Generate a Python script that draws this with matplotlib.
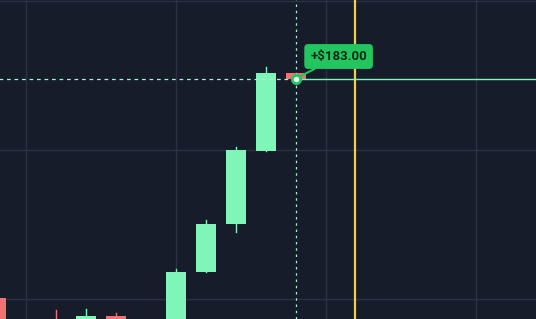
import matplotlib.pyplot as plt
from matplotlib.patches import Rectangle

# candle data (index, open, high, low, close)
idx = [0, 1, 2, 3, 4, 5, 6, 7, 8, 9, 10]
opens = [221, 170, 199, 197, 203, 190, 185, 247, 295, 368, 446]
highs = [221, 178, 209, 210, 206, 198, 250, 299, 372, 452, 446]
lows = [180, 165, 185, 195, 193, 186, 183, 247, 287, 368, 440]
closes = [185, 175, 190, 203, 196, 195, 247, 295, 369, 446, 440]

price_line = 440.5
cursor_idx = 10
marker_line_idx = 11.97
label_text = '+$183.00'

bg = '#171c2b'
up_col = '#7ff5b8'
down_col = '#f07272'

fig = plt.figure(figsize=(5.36, 3.19), dpi=100)
fig.patch.set_facecolor(bg)
ax = fig.add_axes([0, 0, 1, 1])
ax.set_facecolor(bg)
ax.set_xlim(4 / 30, 540 / 30)
ax.set_ylim(200, 519)
for s in ax.spines.values():
    s.set_visible(False)
ax.set_xticks([])
ax.set_yticks([])

# grid
for gx in [1, 6, 11, 16]:
    ax.axvline(gx, color='#2b3142', lw=1, zorder=0)
for gy in [220, 369, 518]:
    ax.axhline(gy, color='#2b3142', lw=1, zorder=0)

w = 20 / 30
for i, o, h, l, c in zip(idx, opens, highs, lows, closes):
    col = up_col if c >= o else down_col
    ax.plot([i, i], [l, h], color=col, lw=1, zorder=2)
    ax.add_patch(Rectangle((i - w / 2, min(o, c)), w, max(abs(c - o), 1),
                           facecolor=col, edgecolor='none', zorder=3))

# yellow marker line
ax.axvline(marker_line_idx, color='#f2cf4a', lw=1.6, zorder=4)

# crosshair
ax.plot([0, cursor_idx], [price_line, price_line], color='#a8f0d4', lw=0.9,
        ls=(0, (3, 3)), zorder=4)
ax.axvline(cursor_idx, color='#a8f0d4', lw=0.9, ls=(0, (2, 3)), zorder=4)
ax.plot([cursor_idx, 18], [price_line, price_line], color=up_col, lw=1, zorder=4)

# annotation
ax.annotate(label_text, xy=(cursor_idx, price_line), xytext=(11.42, 462.5),
            ha='center', va='center', fontsize=9.5, fontweight='bold', color='#0d2a18',
            family=['Roboto', 'DejaVu Sans'],
            bbox=dict(boxstyle='round,pad=0.45,rounding_size=0.3', fc='#22c55e', ec='none'),
            arrowprops=dict(arrowstyle='-', color='#22c55e', lw=1.5, shrinkA=0, shrinkB=0),
            zorder=6)
ax.plot([cursor_idx], [price_line], 'o', ms=6, mfc='#e8fff2', mec='#22c55e', mew=2, zorder=7)

fig.savefig('out.png', dpi=100, facecolor=bg)
